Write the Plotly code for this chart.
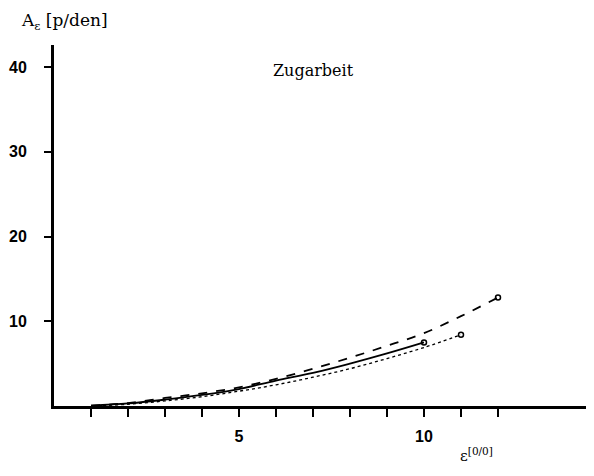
import plotly.graph_objects as go

# strain ε [%]
x_dash = [1, 2, 3, 4, 5, 6, 7, 8, 9, 10, 11, 12]
y_dash = [0.05, 0.35, 0.95, 1.5, 2.2, 3.2, 4.4, 5.7, 7.1, 8.6, 10.6, 12.8]

x_solid = [1, 2, 3, 4, 5, 6, 7, 8, 9, 10]
y_solid = [0.05, 0.3, 0.75, 1.3, 2.0, 3.0, 3.9, 5.0, 6.2, 7.5]

x_dot = [1, 2, 3, 4, 5, 6, 7, 8, 9, 10, 11]
y_dot = [0.02, 0.2, 0.6, 1.1, 1.75, 2.5, 3.4, 4.4, 5.6, 6.9, 8.4]

x_ticks = [1, 2, 3, 4, 5, 6, 7, 8, 9, 10, 11, 12]
x_ticktext = [" ", " ", " ", " ", "<b>5</b>", " ", " ", " ", " ", "<b>10</b>", " ", " "]
y_ticks = [10, 20, 30, 40]
y_ticktext = ["<b>10</b>", "<b>20</b>", "<b>30</b>", "<b>40</b>"]

fig = go.Figure()

def add(x, y, dash, width):
    fig.add_trace(go.Scatter(
        x=x, y=y, mode="lines", line=dict(color="black", width=width, dash=dash, shape="spline"),
        showlegend=False, hoverinfo="skip"))
    fig.add_trace(go.Scatter(
        x=[x[-1]], y=[y[-1]], mode="markers",
        marker=dict(symbol="circle-open", size=5, color="black", line=dict(width=1.5)),
        showlegend=False, hoverinfo="skip"))

add(x_dash, y_dash, "dash", 1.8)
add(x_solid, y_solid, "solid", 1.8)
add(x_dot, y_dot, "dot", 1.3)

tick_font = dict(family="Liberation Sans", size=16, color="black")

# page offset (body margin); figure kept smaller than window to avoid scrollbars
OFF = 8
FW, FH = 578, 460
L, R, T, B = 54, 586, 45, 406  # plot area in page pixels

fig.update_layout(
    width=FW, height=FH,
    margin=dict(l=L - OFF, r=FW + OFF - R, t=T - OFF, b=FH + OFF - B, autoexpand=False),
    paper_bgcolor="white", plot_bgcolor="white",
    xaxis=dict(range=[0, (R - L) / 37.0], showgrid=False, zeroline=False,
               showline=True, linecolor="black", linewidth=3, automargin=False,
               ticks="outside", ticklen=8, tickwidth=2, tickcolor="black",
               tickvals=x_ticks, ticktext=x_ticktext,
               tickfont=tick_font, ticklabelstandoff=6),
    yaxis=dict(range=[0, 42.6], showgrid=False, zeroline=False,
               showline=True, linecolor="black", linewidth=3, automargin=False,
               ticks="outside", ticklen=7, tickwidth=2, tickcolor="black",
               tickvals=y_ticks, ticktext=y_ticktext,
               tickfont=tick_font, ticklabelstandoff=14),
)

def px(xp):
    return (xp - L) / (R - L)
def py(yp):
    return (B - yp) / (B - T)

serif = "DejaVu Serif"
common = dict(xref="paper", yref="paper", showarrow=False, xanchor="center", yanchor="middle")
fig.add_annotation(text="Zugarbeit", x=px(313), y=py(70),
                   font=dict(family=serif, size=16, color="black"), **common)
fig.add_annotation(text="A<sub>ε</sub> [p/den]", x=px(64), y=py(22),
                   font=dict(family=serif, size=17, color="black"), **common)
fig.add_annotation(text="ε<sup>[0/0]</sup>", x=px(476), y=py(455),
                   font=dict(family=serif, size=15, color="black"), **common)

fig.write_html("out.html")
